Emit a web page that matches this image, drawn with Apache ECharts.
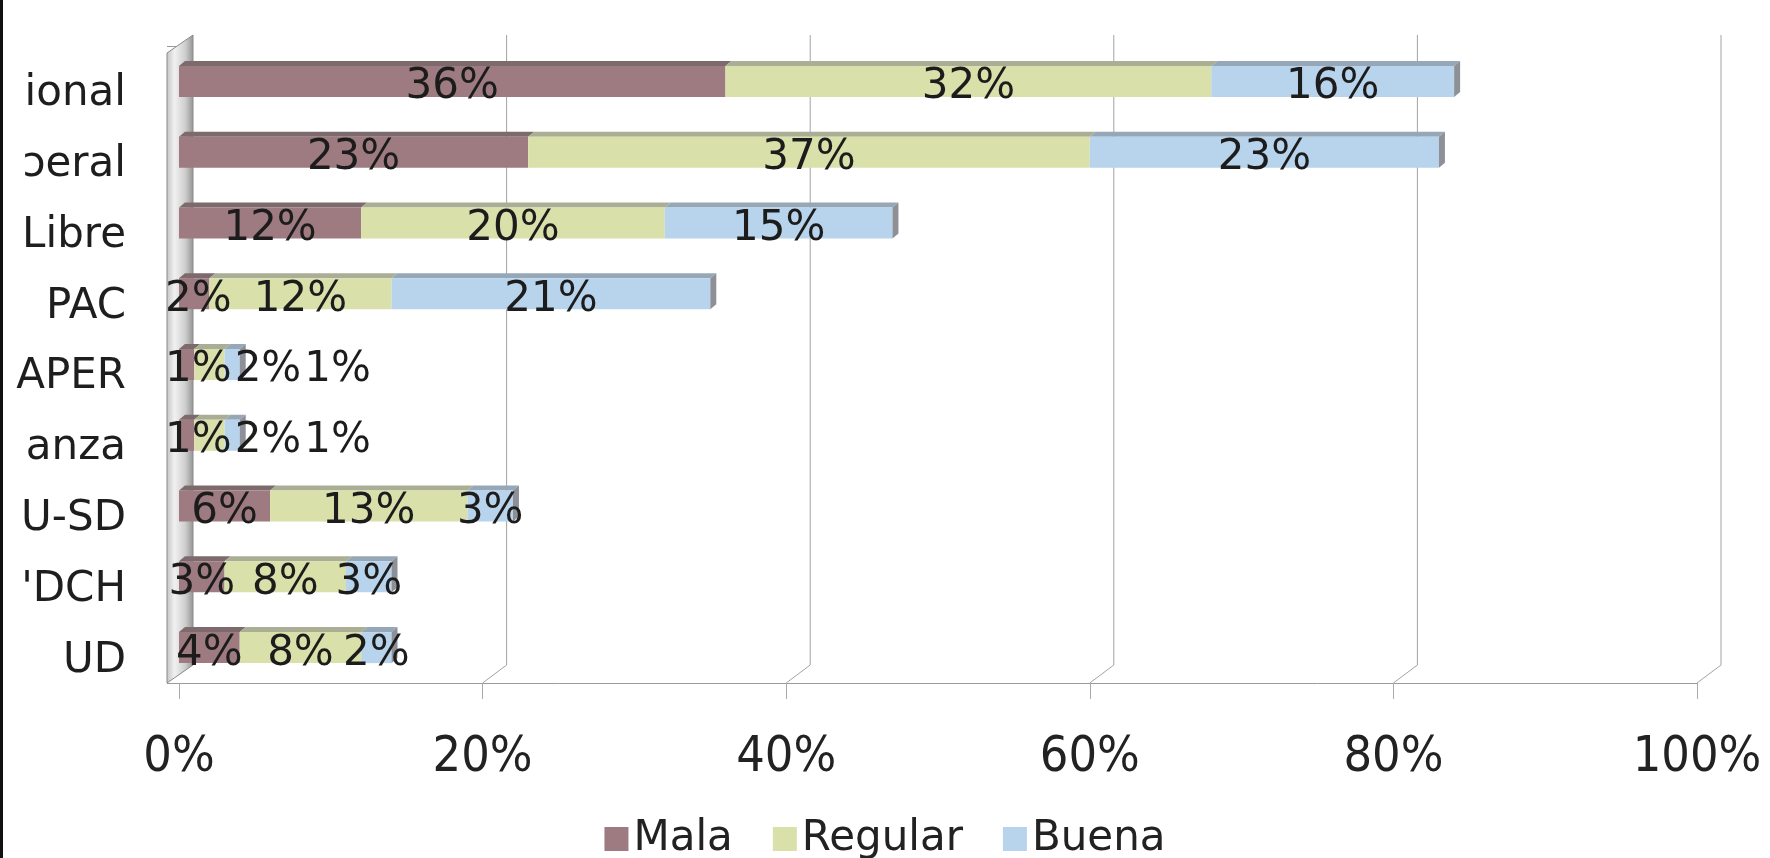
<!DOCTYPE html>
<html>
<head>
<meta charset="utf-8">
<script src="https://cdn.jsdelivr.net/npm/echarts@6/dist/echarts.min.js"></script>
<style>
html,body{margin:0;padding:0;background:#fff;}
#c{position:absolute;left:0;top:0;width:1770px;height:858px;}
#edge{position:absolute;left:0;top:0;width:3px;height:858px;background:#111;}
</style>
</head>
<body>
<div id="c"></div>
<div id="edge"></div>
<script>
// ---- data ----
const categories = ['ional', 'ɔeral', 'Libre', 'PAC', 'APER', 'anza', 'U-SD', "'DCH", 'UD'];
const seriesNames = ['Mala', 'Regular', 'Buena'];
const mala    = [36, 23, 12,  2, 1, 1,  6, 3, 4];
const regular = [32, 37, 20, 12, 2, 2, 13, 8, 8];
const buena   = [16, 23, 15, 21, 1, 1,  3, 3, 2];
const xTicks  = [0, 20, 40, 60, 80, 100];

// ---- styling ----
const values = [mala, regular, buena];
const faceColors = ['#9d7b81', '#d9e0aa', '#b8d3ec'];
const topColors  = ['#7c6a6d', '#a9ae95', '#96a8b8'];
const endColor   = '#8d9197';
const FONT = '"DejaVu Sans", sans-serif';
const LABEL_SIZE = 42;
const BAR_H = 31, DX = 6, DY = 5;

const mctx = document.createElement('canvas').getContext('2d');
mctx.font = LABEL_SIZE + 'px "DejaVu Sans"';
function textW(s) { return mctx.measureText(s).width; }

function segBounds(api, i) {
  let acc = 0; const out = [];
  for (let s = 0; s < values.length; s++) {
    const v = values[s][i];
    out.push([api.coord([acc, i])[0], api.coord([acc + v, i])[0]]);
    acc += v;
  }
  return out;
}
function labelCenters(api, i) {
  const b = segBounds(api, i);
  let prevRight = api.coord([0, i])[0] - 17;
  const c = [];
  for (let s = 0; s < values.length; s++) {
    const w = textW(values[s][i] + '%');
    let cx = (b[s][0] + b[s][1]) / 2;
    if (cx - w / 2 < prevRight + 3) cx = prevRight + 3 + w / 2;
    c.push(cx);
    prevRight = cx + w / 2;
  }
  return c;
}

function makeBarSeries(s) {
  return {
    name: seriesNames[s],
    type: 'custom',
    z: 3,
    itemStyle: { color: faceColors[s] },
    encode: { x: 0, y: 1 },
    data: values[s].map((v, i) => [v, i]),
    renderItem: function (params, api) {
      const i = params.dataIndex;
      const b = segBounds(api, i)[s];
      const yc = api.coord([0, i])[1];
      const x0 = b[0], x1 = b[1];
      const top = yc - BAR_H / 2, bot = yc + BAR_H / 2;
      const children = [
        { type: 'polygon', shape: { points: [[x0, top], [x0 + DX, top - DY], [x1 + DX, top - DY], [x1, top]] },
          style: { fill: topColors[s] } },
        { type: 'rect', shape: { x: x0, y: top, width: x1 - x0, height: BAR_H },
          style: { fill: faceColors[s] } }
      ];
      if (s === values.length - 1) {
        children.push({ type: 'polygon',
          shape: { points: [[x1, top], [x1 + DX, top - DY], [x1 + DX, bot - DY], [x1, bot]] },
          style: { fill: endColor } });
      }
      const cx = labelCenters(api, i)[s];
      children.push({ type: 'text', z2: 100, x: cx, y: yc + 6,
        style: { text: values[s][i] + '%', font: LABEL_SIZE + 'px ' + FONT, fill: '#1c1c1c',
                 align: 'center', verticalAlign: 'middle' } });
      return { type: 'group', children: children };
    }
  };
}

const frameSeries = {
  name: 'frame',
  type: 'custom',
  z: 1,
  silent: true,
  data: [[0, 0]],
  encode: { x: 0, y: 1 },
  renderItem: function (params, api) {
    const cs = params.coordSys;
    const bottom = cs.y + cs.height;
    const GX = 24, GY = 18;
    const backTop = cs.y - 11;
    const children = [];
    xTicks.forEach(function (v) {
      if (v === 0) return;
      const x = api.coord([v, 0])[0];
      children.push({ type: 'polyline',
        shape: { points: [[x + GX, backTop], [x + GX, bottom - GY], [x, bottom]] },
        style: { stroke: '#a3a3a3', lineWidth: 1, fill: null } });
    });
    const fx = api.coord([0, 0])[0] - 12;
    children.push({ type: 'polygon',
      shape: { points: [[fx, backTop + GY], [fx + 26, backTop], [fx + 26, bottom - GY], [fx, bottom]] },
      style: {
        fill: new echarts.graphic.LinearGradient(0, 0, 1, 0, [
          { offset: 0, color: '#c4c4c4' }, { offset: 0.3, color: '#f1f1f1' },
          { offset: 0.7, color: '#cdcdcd' }, { offset: 1, color: '#929292' }]),
        stroke: '#8a8a8a', lineWidth: 1 } });
    return { type: 'group', children: children };
  }
};

const chart = echarts.init(document.getElementById('c'), null, { renderer: 'canvas' });
chart.setOption({
  backgroundColor: '#ffffff',
  animation: false,
  textStyle: { fontFamily: FONT },
  grid: { left: 179, top: 46, width: 1518, height: 637, containLabel: false },
  legend: {
    data: seriesNames,
    top: 813, left: 'center',
    icon: 'rect', itemWidth: 24, itemHeight: 24, itemGap: 40,
    textStyle: { fontSize: 42, color: '#222', fontFamily: FONT }
  },
  xAxis: {
    type: 'value', min: 0, max: 100, interval: 20,
    axisLine: { show: true, lineStyle: { color: '#9a9a9a', width: 1 } },
    axisTick: { show: true, length: 16, lineStyle: { color: '#aaaaaa' } },
    splitLine: { show: false },
    axisLabel: { formatter: '{value}%', fontSize: 50, margin: 50, color: '#222',
                 fontFamily: '"DejaVu Sans Condensed", "DejaVu Sans", sans-serif' }
  },
  yAxis: {
    type: 'category', inverse: true, data: categories, offset: 12,
    axisLine: { show: false },
    axisTick: { show: true, length: 12, lineStyle: { color: '#9a9a9a' } },
    axisLabel: { fontSize: 42, color: '#1e1e1e', margin: 41, verticalAlign: 'top', lineHeight: 26,
                 fontFamily: FONT }
  },
  series: [frameSeries].concat(seriesNames.map((n, s) => makeBarSeries(s)))
});
</script>
</body>
</html>
